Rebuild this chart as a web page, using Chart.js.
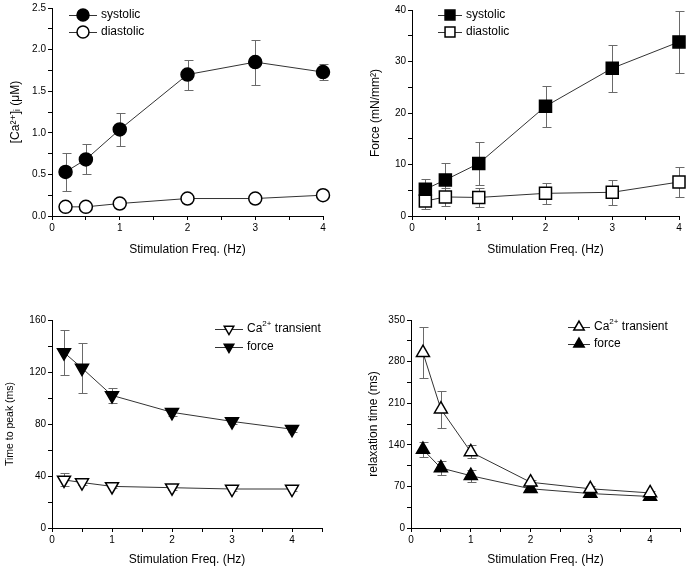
<!DOCTYPE html>
<html>
<head>
<meta charset="utf-8">
<script src="https://cdn.jsdelivr.net/npm/chart.js@4"></script>
<style>
  html, body { margin: 0; padding: 0; background: #fff; }
  #page { position: relative; width: 689px; height: 569px; overflow: hidden; }
  .panel { position: absolute; }
</style>
</head>
<body>
<div id="page">
  <div class="panel" style="left:0;top:0"><canvas id="ca" width="345" height="285"></canvas></div>
  <div class="panel" style="left:345px;top:0"><canvas id="force" width="344" height="285"></canvas></div>
  <div class="panel" style="left:0;top:285px"><canvas id="ttp" width="345" height="284"></canvas></div>
  <div class="panel" style="left:345px;top:285px"><canvas id="relax" width="344" height="284"></canvas></div>
</div>
<script>
// Frequency dependence of Ca2+ and force (4 panels)

const FONT = '"Liberation Sans", Arial, "DejaVu Sans", sans-serif';

const freqs = [0.2, 0.5, 1, 2, 3, 4];

// [Ca2+]i, uM
const caSystolic = [0.53, 0.68, 1.04, 1.70, 1.85, 1.73];
const caSystolicErr = [0.23, 0.18, 0.20, 0.18, 0.27, 0.10];
const caDiastolic = [0.11, 0.11, 0.15, 0.21, 0.21, 0.25];
const caDiastolicErr = [0.03, 0.03, 0.03, 0.02, 0.02, 0.02];

// force, mN/mm2
const forceSystolic = [5.2, 7.0, 10.2, 21.3, 28.7, 33.8];
const forceSystolicErr = [2.0, 3.3, 4.1, 4.0, 4.6, 6.1];
const forceDiastolic = [2.9, 3.7, 3.6, 4.4, 4.6, 6.6];
const forceDiastolicErr = [1.6, 1.8, 1.8, 2.0, 2.4, 3.0];

// time to peak, ms
const ttpCa = [37, 35, 32, 31, 30, 30];
const ttpCaErr = [5, 2, 1.5, 2, 1.5, 1.5];
const ttpForce = [135, 123, 102, 89, 82, 76];
const ttpForceErr = [17, 19, 6, 3, 2, 2];

// relaxation time, ms
const relaxCa = [295, 200, 128, 77, 66, 59];
const relaxCaErr = [43, 31, 11, 4, 4, 4];
const relaxForce = [132, 101, 88, 66, 58, 53];
const relaxForceErr = [13, 12, 10, 4, 4, 3];

function pts(ys) {
  return freqs.map(function(f, i) { return { x: f, y: ys[i] }; });
}

// vertical error bars, drawn under the markers
const errorBars = {
  id: "errorBars",
  beforeDatasetsDraw(chart) {
    const ctx = chart.ctx, xs = chart.scales.x, ys = chart.scales.y;
    chart.data.datasets.forEach(function(ds) {
      if (!ds.errors) return;
      ctx.save();
      ctx.strokeStyle = "#6a6a6a";
      ctx.lineWidth = 1;
      ds.data.forEach(function(p, i) {
        const e = ds.errors[i];
        const x = Math.round(xs.getPixelForValue(p.x)) + 0.5;
        const top = Math.round(ys.getPixelForValue(p.y + e)) + 0.5;
        const bot = Math.round(ys.getPixelForValue(p.y - e)) + 0.5;
        ctx.beginPath();
        ctx.moveTo(x, top); ctx.lineTo(x, bot);
        ctx.moveTo(x - 4, top); ctx.lineTo(x + 5, top);
        ctx.moveTo(x - 4, bot); ctx.lineTo(x + 5, bot);
        ctx.stroke();
      });
      ctx.restore();
    });
  }
};

// "—o— label" legend, with optional superscript parts
const lineLegend = {
  id: "lineLegend",
  afterDraw(chart, args, opts) {
    if (!opts.items) return;
    const ctx = chart.ctx;
    opts.items.forEach(function(it, i) {
      const y = opts.y + i * opts.gap;
      const x = opts.x;
      ctx.save();
      ctx.strokeStyle = "#333";
      ctx.lineWidth = 1;
      ctx.beginPath();
      ctx.moveTo(x, y + 0.5); ctx.lineTo(x + opts.len, y + 0.5);
      ctx.stroke();
      ctx.fillStyle = it.fill;
      ctx.strokeStyle = "#000";
      ctx.lineWidth = 1.5;
      Chart.helpers.drawPoint(ctx, {
        pointStyle: it.style, rotation: it.rotation || 0,
        radius: it.radius, borderWidth: 1.5
      }, x + opts.len / 2, y);
      ctx.fillStyle = "#000";
      ctx.textBaseline = "middle";
      let tx = x + opts.len + 4;
      it.label.forEach(function(part) {
        const sup = part[1] === "sup";
        ctx.font = (sup ? "8px " : "12px ") + FONT;
        ctx.fillText(part[0], tx, sup ? y - 5 : y);
        tx += ctx.measureText(part[0]).width;
      });
      ctx.restore();
    });
  }
};

function axis(opt) {
  return {
    type: "linear",
    min: opt.min,
    max: opt.max,
    afterFit: function(s) {
      if (opt.size.w) s.width = opt.size.w;
      if (opt.size.h) s.height = opt.size.h;
    },
    border: { display: true, color: "#000", width: 1 },
    grid: { drawOnChartArea: false, drawTicks: true, tickLength: 4, tickColor: "#000" },
    ticks: {
      stepSize: opt.minor,
      autoSkip: false,
      maxRotation: 0,
      padding: 2,
      color: "#000",
      font: { family: FONT, size: 10 },
      callback: function(v) {
        const k = v / opt.major;
        if (Math.abs(k - Math.round(k)) > 1e-6) return "";
        return opt.fmt ? opt.fmt(v) : v;
      }
    },
    title: {
      display: true,
      text: opt.title,
      color: "#000",
      padding: opt.titlePad || { top: 4, bottom: 4 },
      font: { family: FONT, size: opt.titleSize || 12 }
    }
  };
}

function series(label, ys, errs, style, filled, radius, rotation) {
  return {
    label: label,
    data: pts(ys),
    errors: errs,
    borderColor: "#333",
    borderWidth: 1,
    pointStyle: style,
    rotation: rotation || 0,
    pointRadius: radius,
    pointBorderWidth: 1.5,
    pointBorderColor: "#000",
    pointBackgroundColor: filled ? "#000" : "#fff",
    tension: 0,
    fill: false,
    clip: false
  };
}

function panel(id, p) {
  return new Chart(document.getElementById(id), {
    type: "line",
    data: { datasets: p.datasets },
    options: {
      responsive: false,
      animation: false,
      devicePixelRatio: 1,
      layout: { padding: p.padding },
      plugins: {
        legend: { display: false },
        tooltip: { enabled: false },
        lineLegend: p.legend
      },
      scales: { x: p.x, y: p.y }
    },
    plugins: [errorBars, lineLegend]
  });
}

const xTitle = "Stimulation Freq. (Hz)";

panel("ca", {
  padding: { left: 4, top: 8, right: 22, bottom: 24 },
  datasets: [
    series("systolic", caSystolic, caSystolicErr, "circle", true, 6.5),
    series("diastolic", caDiastolic, caDiastolicErr, "circle", false, 6.5)
  ],
  x: axis({ min: 0, max: 4, minor: 0.5, major: 1, title: xTitle, size: { h: 45 } }),
  y: axis({ min: 0, max: 2.5, minor: 0.25, major: 0.5, title: "[Ca²⁺]ᵢ (μM)", size: { w: 48 },
            fmt: function(v) { return v.toFixed(1); } }),
  legend: { x: 69, y: 15, gap: 17, len: 28, items: [
    { label: [["systolic"]], style: "circle", fill: "#000", radius: 6 },
    { label: [["diastolic"]], style: "circle", fill: "#fff", radius: 6 }
  ] }
});

panel("force", {
  padding: { left: 19, top: 8, right: 8, bottom: 24 },
  datasets: [
    series("systolic", forceSystolic, forceSystolicErr, "rect", true, 8.5),
    series("diastolic", forceDiastolic, forceDiastolicErr, "rect", false, 8.5)
  ],
  x: axis({ min: 0, max: 4, minor: 0.5, major: 1, title: xTitle, size: { h: 45 } }),
  y: axis({ min: 0, max: 40, minor: 5, major: 10, title: "Force (mN/mm²)", size: { w: 48 } }),
  legend: { x: 93, y: 15, gap: 17, len: 24, items: [
    { label: [["systolic"]], style: "rect", fill: "#000", radius: 7 },
    { label: [["diastolic"]], style: "rect", fill: "#fff", radius: 7 }
  ] }
});

panel("ttp", {
  padding: { left: 0, top: 35, right: 23, bottom: 2 },
  datasets: [
    series("Ca2+ transient", ttpCa, ttpCaErr, "triangle", false, 7.5, 180),
    series("force", ttpForce, ttpForceErr, "triangle", true, 7.5, 180)
  ],
  x: axis({ min: 0, max: 4.5, minor: 0.5, major: 1, title: xTitle, size: { h: 39 },
            titlePad: { top: 4, bottom: 0 } }),
  y: axis({ min: 0, max: 160, minor: 20, major: 40, title: "Time to peak (ms)", size: { w: 52 },
            titleSize: 10.5 }),
  legend: { x: 215, y: 44, gap: 18, len: 28, items: [
    { label: [["Ca"], ["2+", "sup"], [" transient"]], style: "triangle", rotation: 180, fill: "#fff", radius: 5.5 },
    { label: [["force"]], style: "triangle", rotation: 180, fill: "#000", radius: 5.5 }
  ] }
});

panel("relax", {
  padding: { left: 17, top: 35, right: 8, bottom: 2 },
  datasets: [
    series("Ca2+ transient", relaxCa, relaxCaErr, "triangle", false, 7.5),
    series("force", relaxForce, relaxForceErr, "triangle", true, 7.5)
  ],
  x: axis({ min: 0, max: 4.5, minor: 0.5, major: 1, title: xTitle, size: { h: 39 },
            titlePad: { top: 4, bottom: 0 } }),
  y: axis({ min: 0, max: 350, minor: 35, major: 70, title: "relaxation time (ms)", size: { w: 49 } }),
  legend: { x: 223, y: 42, gap: 17, len: 22, items: [
    { label: [["Ca"], ["2+", "sup"], [" transient"]], style: "triangle", fill: "#fff", radius: 6 },
    { label: [["force"]], style: "triangle", fill: "#000", radius: 6 }
  ] }
});
</script>
</body>
</html>
